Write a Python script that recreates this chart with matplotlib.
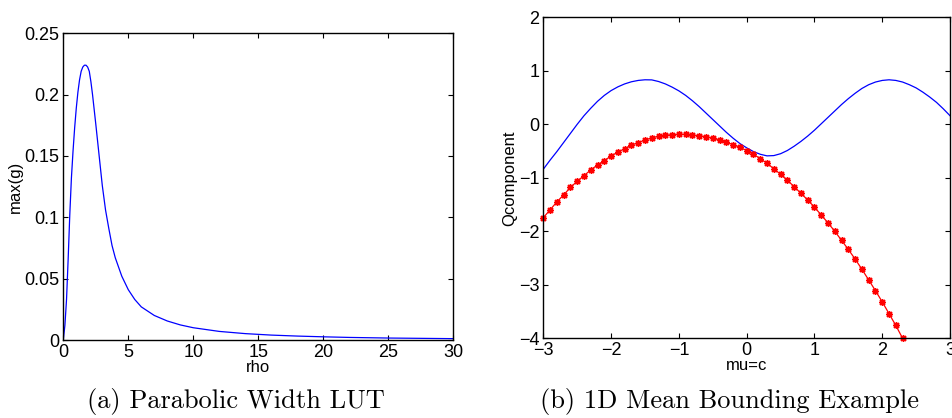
import matplotlib
matplotlib.use('Agg')
import matplotlib.pyplot as plt
from matplotlib.ticker import FuncFormatter

# ---------------- (a) Parabolic Width LUT ----------------
rho = [0, 0.125, 0.25, 0.375, 0.5, 0.625, 0.75, 0.875, 1.0, 1.125, 1.25, 1.375, 1.5,
       1.625, 1.75, 1.875, 2.0, 2.125, 2.25, 2.375, 2.5, 2.75, 3.0, 3.25, 3.5, 3.75,
       4.0, 4.5, 5.0, 5.5, 6.0, 7.0, 8.0, 9.0, 10, 12, 14, 16, 18, 20, 22, 25, 28, 30]
max_g = [0, 0.012, 0.033, 0.066, 0.102, 0.132, 0.154, 0.173, 0.189, 0.202, 0.212, 0.219,
         0.2225, 0.224, 0.224, 0.2225, 0.219, 0.2105, 0.200, 0.188, 0.176, 0.151, 0.126,
         0.106, 0.091, 0.077, 0.067, 0.052, 0.041, 0.033, 0.027, 0.020, 0.0155, 0.0123,
         0.010, 0.0070, 0.0052, 0.0040, 0.0032, 0.0026, 0.0021, 0.0016, 0.0013, 0.0011]

# ---------------- (b) 1D Mean Bounding Example ----------------
mu_blue = [round(-3.0 + 0.1 * i, 1) for i in range(61)]
q_blue = [-0.84, -0.67, -0.51, -0.34, -0.17, 0.0, 0.16, 0.30, 0.43, 0.54,
          0.63, 0.70, 0.755, 0.795, 0.82, 0.832, 0.83, 0.80, 0.755, 0.695,
          0.625, 0.54, 0.44, 0.33, 0.21, 0.09, -0.03, -0.15, -0.26, -0.36,
          -0.44, -0.51, -0.56, -0.59, -0.585, -0.55, -0.49, -0.41, -0.32, -0.22,
          -0.11, 0.01, 0.13, 0.25, 0.37, 0.48, 0.58, 0.67, 0.74, 0.79,
          0.82, 0.832, 0.82, 0.79, 0.74, 0.68, 0.60, 0.51, 0.41, 0.29, 0.16]

mu_red = [round(-3.0 + 0.1 * i, 1) for i in range(54)]
q_red = [-1.745, -1.60, -1.45, -1.32, -1.18, -1.065, -0.96, -0.853, -0.76, -0.68,
         -0.59, -0.52, -0.455, -0.39, -0.343, -0.293, -0.255, -0.224, -0.206, -0.193,
         -0.187, -0.187, -0.20, -0.218, -0.23, -0.26, -0.293, -0.336, -0.38, -0.43,
         -0.49, -0.56, -0.64, -0.73, -0.83, -0.935, -1.047, -1.165, -1.29, -1.414,
         -1.55, -1.695, -1.844, -2.0, -2.17, -2.34, -2.52, -2.71, -2.91, -3.11,
         -3.32, -3.54, -3.76, -4.0]

plt.rcParams['font.family'] = ['Liberation Sans', 'DejaVu Sans']
plt.rcParams['xtick.direction'] = 'in'
plt.rcParams['ytick.direction'] = 'in'
plt.rcParams['xtick.top'] = True
plt.rcParams['ytick.right'] = True
plt.rcParams['xtick.major.size'] = 3.5
plt.rcParams['ytick.major.size'] = 3.5
plt.rcParams['axes.linewidth'] = 1.0

fig = plt.figure(figsize=(9.53, 4.18), dpi=100)
ax1 = fig.add_axes([0.0664, 0.1866, 0.4093, 0.7337])
ax2 = fig.add_axes([0.5701, 0.1907, 0.4268, 0.7679])

fmt = FuncFormatter(lambda v, p: '%g' % v)

ax1.plot(rho, max_g, color='b', linewidth=0.9)
ax1.set_xlim(0, 30)
ax1.set_ylim(0, 0.25)
ax1.set_xticks([0, 5, 10, 15, 20, 25, 30])
ax1.set_yticks([0, 0.05, 0.1, 0.15, 0.2, 0.25])
ax1.yaxis.set_major_formatter(fmt)
ax1.set_xlabel('rho', fontsize=12, labelpad=-1)
ax1.set_ylabel('max(g)', fontsize=12, labelpad=1)

ax2.plot(mu_blue, q_blue, color='b', linewidth=0.9)
ax2.plot(mu_red, q_red, color='r', linewidth=0.9, marker=(8, 2, 0), markersize=5,
         markeredgewidth=1.0, clip_on=False)
ax2.set_xlim(-3, 3)
ax2.set_ylim(-4, 2)
ax2.set_xticks([-3, -2, -1, 0, 1, 2, 3])
ax2.set_yticks([-4, -3, -2, -1, 0, 1, 2])
ax2.set_xlabel('mu=c', fontsize=12, labelpad=-1)
ax2.set_ylabel('Qcomponent', fontsize=12, labelpad=1)

for ax in (ax1, ax2):
    ax.tick_params(labelsize=13, pad=3)

fig.text(0.248, 0.024, '(a) Parabolic Width LUT', fontsize=19, family='cmr10',
         ha='center', va='baseline')
fig.text(0.765, 0.024, '(b) 1D Mean Bounding Example', fontsize=19, family='cmr10',
         ha='center', va='baseline')

fig.savefig('out.png', dpi=100)
